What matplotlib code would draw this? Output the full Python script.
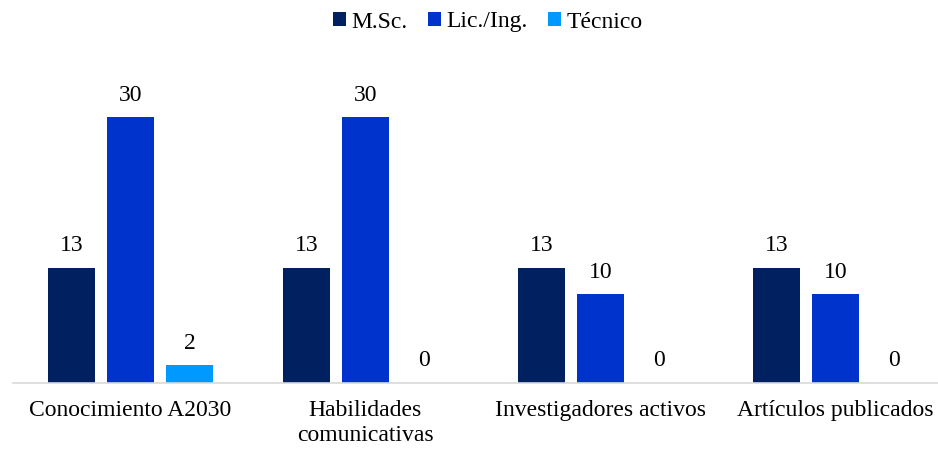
import matplotlib
matplotlib.use("Agg")
import matplotlib.pyplot as plt
import numpy as np

categories = ["Conocimiento A2030", "Habilidades\ncomunicativas", "Investigadores activos", "Artículos publicados"]
series_names = ["M.Sc.", "Lic./Ing.", "Técnico"]
msc = [13, 13, 13, 13]
lic = [30, 30, 10, 10]
tec = [2, 0, 0, 0]
colors = ["#002060", "#0033CC", "#0099FF"]

plt.rcParams['font.family'] = ['Liberation Serif', 'DejaVu Serif']

fig = plt.figure(figsize=(9.38, 4.5), dpi=100)
ax = fig.add_axes([13/938, 1-383/450, 925/938, (383-73)/450])

x = np.arange(len(categories))
w = 0.2
off = 0.251
for i, (vals, name, c) in enumerate(zip([msc, lic, tec], series_names, colors)):
    ax.bar(x + (i-1)*off, vals, width=w, color=c, label=name)
    for xi, v in zip(x + (i-1)*off, vals):
        ax.text(xi, v + 1.3, str(v), ha='center', va='bottom', fontsize=17, color='#000000')

ax.set_xlim(-0.5, 3.437)
ax.set_ylim(0, 35)
ax.set_yticks([])
for s in ['top', 'right', 'left']:
    ax.spines[s].set_visible(False)
ax.spines['bottom'].set_color('#d9d9d9')
ax.spines['bottom'].set_linewidth(1.2)
ax.set_xticks(x)
ax.set_xticklabels(categories, fontsize=17, color='#000000', linespacing=1.3)
ax.tick_params(axis='x', length=0, pad=12)

fig.legend(loc='center', bbox_to_anchor=(488/938, 1-22/450), ncol=3, frameon=False,
           fontsize=17, handlelength=0.55, handleheight=0.55, handletextpad=0.25, columnspacing=0.85)

fig.savefig("out.png", dpi=100)
